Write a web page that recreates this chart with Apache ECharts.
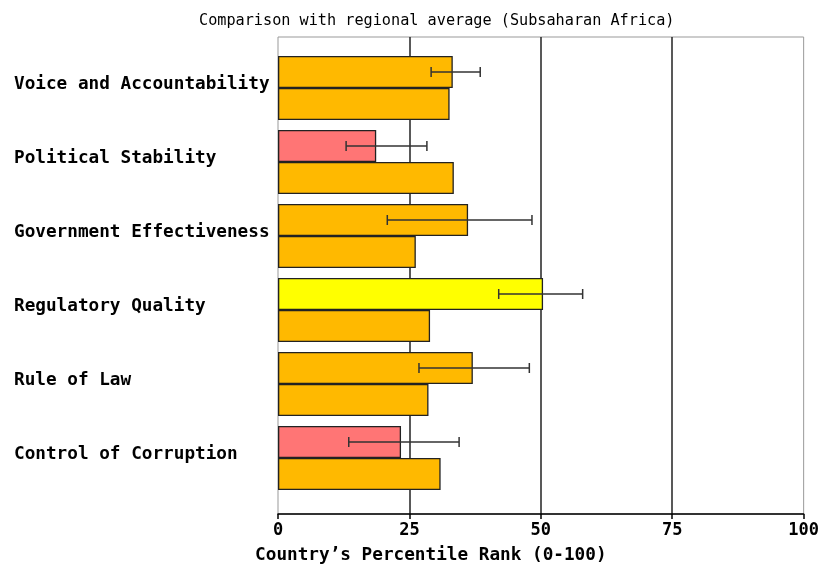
<!DOCTYPE html>
<html>
<head>
<meta charset="utf-8">
<script src="https://cdn.jsdelivr.net/npm/echarts@6/dist/echarts.min.js"></script>
<style>
  html, body { margin: 0; padding: 0; background: #fff; }
  #chart { width: 822px; height: 569px; }
</style>
</head>
<body>
<div id="chart"></div>
<script>
// indicator names (top to bottom)
const categories = ['Voice and Accountability', 'Political Stability', 'Government Effectiveness', 'Regulatory Quality', 'Rule of Law', 'Control of Corruption']
// country percentile rank
const countryRank = [33.1, 18.6, 36.0, 50.2, 36.9, 23.3]
// regional average (Subsaharan Africa)
const regionRank = [32.5, 33.3, 26.1, 28.8, 28.5, 30.8]
// margin of error for the country
const errLow = [29.0, 12.9, 20.7, 41.8, 26.7, 13.4]
const errHigh = [38.3, 28.2, 48.1, 57.7, 47.6, 34.3]
// x axis ticks
const xTicks = [0, 25, 50, 75, 100]

const FONT = '"DejaVu Sans Mono", "Liberation Mono", monospace'
const BAR_W = 32

// percentile colour bands
function colorFor(v) {
  if (v < 10) return '#e00000'
  if (v < 25) return '#ff7575'
  if (v < 50) return '#ffb900'
  if (v < 75) return '#ffff00'
  if (v < 90) return '#9acd32'
  return '#00a000'
}

const barData = arr => arr.map(v => ({ value: v, itemStyle: { color: colorFor(v) } }))

const chart = echarts.init(document.getElementById('chart'))

const option = {
  animation: false,
  backgroundColor: '#fff',
  title: {
    text: 'Comparison with regional average (Subsaharan Africa)',
    left: 194,
    top: 9,
    textStyle: { fontFamily: FONT, fontWeight: 'normal', fontSize: 15.2, color: '#000' }
  },
  grid: [
    // frame + value axis
    { left: 278, right: 16, top: 37, bottom: 55, show: true, borderColor: '#999', borderWidth: 1, backgroundColor: 'transparent' },
    // bars
    { left: 278, right: 16, top: 51, bottom: 74 }
  ],
  xAxis: [
    {
      gridIndex: 0,
      type: 'value',
      min: xTicks[0],
      max: xTicks[xTicks.length - 1],
      interval: 25,
      axisLine: { show: true, lineStyle: { color: '#000', width: 1.5 } },
      axisTick: { show: true, length: 5, lineStyle: { color: '#000', width: 1.5 } },
      axisLabel: { margin: 8, fontFamily: FONT, fontWeight: 'bold', fontSize: 17, color: '#000' },
      splitLine: { show: true, showMinLine: false, showMaxLine: false, lineStyle: { color: '#222', width: 1.5 } },
      name: 'Country\u2019s Percentile Rank (0-100)',
      nameLocation: 'middle',
      nameGap: 32,
      nameTextStyle: { fontFamily: FONT, fontWeight: 'bold', fontSize: 17.7, color: '#000', padding: [0, 220, 0, 0] }
    },
    { gridIndex: 1, type: 'value', min: 0, max: 100, show: false }
  ],
  yAxis: [
    { gridIndex: 0, type: 'value', show: false },
    {
      gridIndex: 1,
      type: 'category',
      data: categories,
      inverse: true,
      axisLine: { show: false },
      axisTick: { show: false },
      splitLine: { show: false },
      axisLabel: {
        align: 'left',
        verticalAlign: 'bottom',
        lineHeight: 7,
        margin: 264,
        fontFamily: FONT,
        fontWeight: 'bold',
        fontSize: 17.7,
        color: '#000'
      }
    }
  ],
  series: [
    {
      name: 'Country',
      type: 'bar',
      xAxisIndex: 1,
      yAxisIndex: 1,
      barWidth: BAR_W,
      barGap: '0%',
      data: barData(countryRank),
      itemStyle: { borderColor: '#222', borderWidth: 1.3 }
    },
    {
      name: 'Regional average',
      type: 'bar',
      xAxisIndex: 1,
      yAxisIndex: 1,
      barWidth: BAR_W,
      barGap: '0%',
      data: barData(regionRank),
      itemStyle: { borderColor: '#222', borderWidth: 1.3 }
    },
    {
      name: 'Margin of error',
      type: 'custom',
      xAxisIndex: 1,
      yAxisIndex: 1,
      z: 10,
      encode: { x: [1, 2], y: 0 },
      data: categories.map((c, i) => [i, errLow[i], errHigh[i]]),
      renderItem: (params, api) => {
        const lo = api.coord([api.value(1), api.value(0)])
        const hi = api.coord([api.value(2), api.value(0)])
        const y = lo[1] - BAR_W / 2
        const cap = 5
        const style = { stroke: '#333', lineWidth: 1.5 }
        return {
          type: 'group',
          children: [
            { type: 'line', shape: { x1: lo[0], y1: y, x2: hi[0], y2: y }, style },
            { type: 'line', shape: { x1: lo[0], y1: y - cap, x2: lo[0], y2: y + cap }, style },
            { type: 'line', shape: { x1: hi[0], y1: y - cap, x2: hi[0], y2: y + cap }, style }
          ]
        }
      }
    }
  ]
}

chart.setOption(option)
</script>
</body>
</html>
